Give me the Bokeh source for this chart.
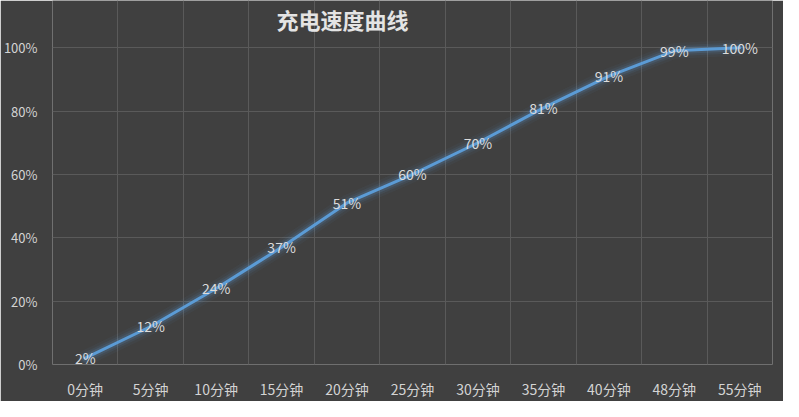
from bokeh.plotting import figure
from bokeh.models import ColumnDataSource, FixedTicker, Grid, Range1d, Label, LabelSet
from bokeh.core.properties import value
from bokeh.embed import file_html
from bokeh.resources import INLINE

categories = ["0分钟", "5分钟", "10分钟", "15分钟", "20分钟", "25分钟", "30分钟",
              "35分钟", "40分钟", "48分钟", "55分钟"]
values = [2, 12, 24, 37, 51, 60, 70, 81, 91, 99, 100]
y_ticks = [0, 20, 40, 60, 80, 100]
title_text = "充电速度曲线"

BG = "#404040"
GRID = "#5a5a5a"
TXT = "#d4d4d4"
LINE = "#5b9bd5"
FONT = "Noto Sans CJK SC"

xs = [i + 0.5 for i in range(len(categories))]
src = ColumnDataSource(dict(x=xs, y=values, lab=[f"{v}%" for v in values]))

p = figure(width=783, height=401, output_backend="svg", toolbar_location=None,
           x_range=Range1d(0, len(categories)), y_range=Range1d(0, 114.9),
           min_border_left=49, min_border_right=11, min_border_top=0, min_border_bottom=31)
p.background_fill_color = BG
p.border_fill_color = BG
p.outline_line_color = None

# axes
p.xaxis.ticker = FixedTicker(ticks=xs)
p.xaxis.major_label_overrides = {x: c for x, c in zip(xs, categories)}
p.yaxis.ticker = FixedTicker(ticks=y_ticks)
p.yaxis.major_label_overrides = {t: f"{t}%" for t in y_ticks}
for ax in (p.xaxis[0], p.yaxis[0]):
    ax.axis_line_color = None
    ax.major_tick_line_color = None
    ax.minor_tick_line_color = None
    ax.major_label_text_color = TXT
    ax.major_label_text_font = FONT
p.xaxis.major_label_text_font_size = "14px"
p.yaxis.major_label_text_font_size = "13px"
p.xaxis.major_label_standoff = 8
p.yaxis.major_label_standoff = 9

# grids
p.xgrid.visible = False
p.ygrid.grid_line_color = GRID
p.ygrid.grid_line_width = 1
vgrid = Grid(dimension=0, ticker=FixedTicker(ticks=list(range(len(categories) + 1))),
             grid_line_color=GRID, grid_line_width=1)
p.add_layout(vgrid)

# glow + line
for w, a in [(16, 0.05), (11, 0.09), (7, 0.16)]:
    p.line("x", "y", source=src, line_color=LINE, line_width=w, line_alpha=a,
           line_join="round", line_cap="round")
p.line("x", "y", source=src, line_color=LINE, line_width=3, line_join="round", line_cap="round")

labels = LabelSet(x="x", y="y", text="lab", source=src, text_align="center",
                  text_baseline="middle", text_color="#dcdcdc", text_font=value(FONT),
                  text_font_size=value("14px"))
p.add_layout(labels)

title = Label(x=4.43, y=109.0, text=title_text, text_align="center", text_baseline="middle",
              text_color="#e4e4e4", text_font=FONT, text_font_size="22px",
              text_font_style="bold")
p.add_layout(title)

open("out.html", "w").write(file_html(p, INLINE))
